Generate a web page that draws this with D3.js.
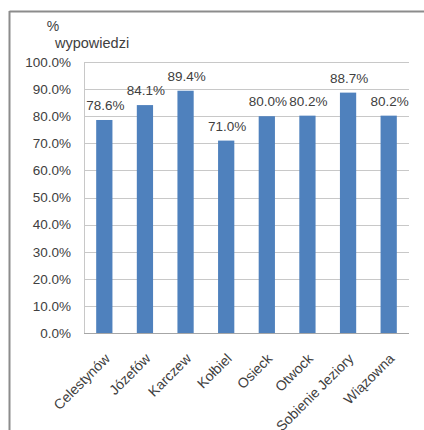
<!DOCTYPE html>
<html><head><meta charset="utf-8">
<script src="https://cdn.jsdelivr.net/npm/d3@7"></script>
<style>
html,body{margin:0;padding:0;background:#fff;}
svg{display:block;font-family:"Liberation Sans",Arial,sans-serif;}
</style></head>
<body>
<svg id="chart" width="424" height="430"></svg>
<script>
const categories = ["Celestynów","Józefów","Karczew","Kołbiel","Osieck","Otwock","Sobienie Jeziory","Wiązowna"];
const values = [78.6, 84.1, 89.4, 71.0, 80.0, 80.2, 88.7, 80.2];
const yTicks = [0,10,20,30,40,50,60,70,80,90,100];
const yTitle = ["%","wypowiedzi"];

const svg = d3.select("#chart");
const m = {left:84, right:409, top:62, bottom:333};
const textColor = "#404040";

// outer frame (only top and left visible)
svg.append("line").attr("x1",9.5).attr("x2",424).attr("y1",11.5).attr("y2",11.5)
  .attr("stroke","#8c8c8c").attr("stroke-width",2);
svg.append("line").attr("x1",9.5).attr("x2",9.5).attr("y1",11).attr("y2",430)
  .attr("stroke","#8c8c8c").attr("stroke-width",2);

const x = d3.scaleBand().domain(categories).range([m.left,m.right]).paddingInner(0.6).paddingOuter(0.3);
const y = d3.scaleLinear().domain([0,100]).range([m.bottom,m.top]);

// gridlines
svg.append("g").selectAll("line").data(yTicks).join("line")
  .attr("x1",m.left).attr("x2",m.right)
  .attr("y1",d=>Math.round(y(d))+0.5).attr("y2",d=>Math.round(y(d))+0.5)
  .attr("stroke",d=>d===0?"#a6a6a6":"#c8c8c8").attr("stroke-width",1);
// y axis line
svg.append("line").attr("x1",m.left+0.5).attr("x2",m.left+0.5)
  .attr("y1",m.top).attr("y2",m.bottom).attr("stroke","#c8c8c8");

// y tick labels
const yAxis = d3.axisLeft(y).tickValues(yTicks).tickSize(0).tickPadding(13)
  .tickFormat(d=>d3.format(".1f")(d)+"%");
const gy = svg.append("g").attr("transform",`translate(${m.left},0)`).call(yAxis);
gy.select(".domain").remove();
gy.selectAll("text").attr("font-size","13.5px").attr("fill",textColor)
  .attr("font-family","'Liberation Sans',Arial,sans-serif");

// bars
svg.append("g").selectAll("rect").data(values).join("rect")
  .attr("x",(d,i)=>x(categories[i])).attr("width",x.bandwidth())
  .attr("y",d=>y(d)).attr("height",d=>y(0)-y(d))
  .attr("fill","#4f81bd");

// redraw baseline over bars
svg.append("line").attr("x1",m.left).attr("x2",m.right)
  .attr("y1",m.bottom+0.5).attr("y2",m.bottom+0.5).attr("stroke","#a6a6a6");

// data labels
svg.append("g").selectAll("text").data(values).join("text")
  .attr("x",(d,i)=>x(categories[i])+x.bandwidth()/2+1)
  .attr("y",d=>y(d)-10)
  .attr("text-anchor","middle").attr("font-size","13.5px").attr("fill",textColor)
  .text(d=>d3.format(".1f")(d)+"%");

// x labels
const xAxis = d3.axisBottom(x).tickSize(0).tickPadding(0);
const gx = svg.append("g").attr("transform",`translate(0,${m.bottom})`).call(xAxis);
gx.select(".domain").remove();
gx.selectAll("text")
  .attr("font-size","14px").attr("fill",textColor)
  .attr("font-family","'Liberation Sans',Arial,sans-serif")
  .attr("text-anchor","end").attr("dy","0.35em").attr("y",0)
  .attr("transform","translate(3,23) rotate(-45)");

// y axis title
svg.append("text").attr("x",53).attr("y",31).attr("text-anchor","middle")
  .attr("font-size","14px").attr("fill",textColor).text(yTitle[0]);
svg.append("text").attr("x",55).attr("y",48)
  .attr("font-size","14.5px").attr("fill",textColor).text(yTitle[1]);
</script>
</body></html>
